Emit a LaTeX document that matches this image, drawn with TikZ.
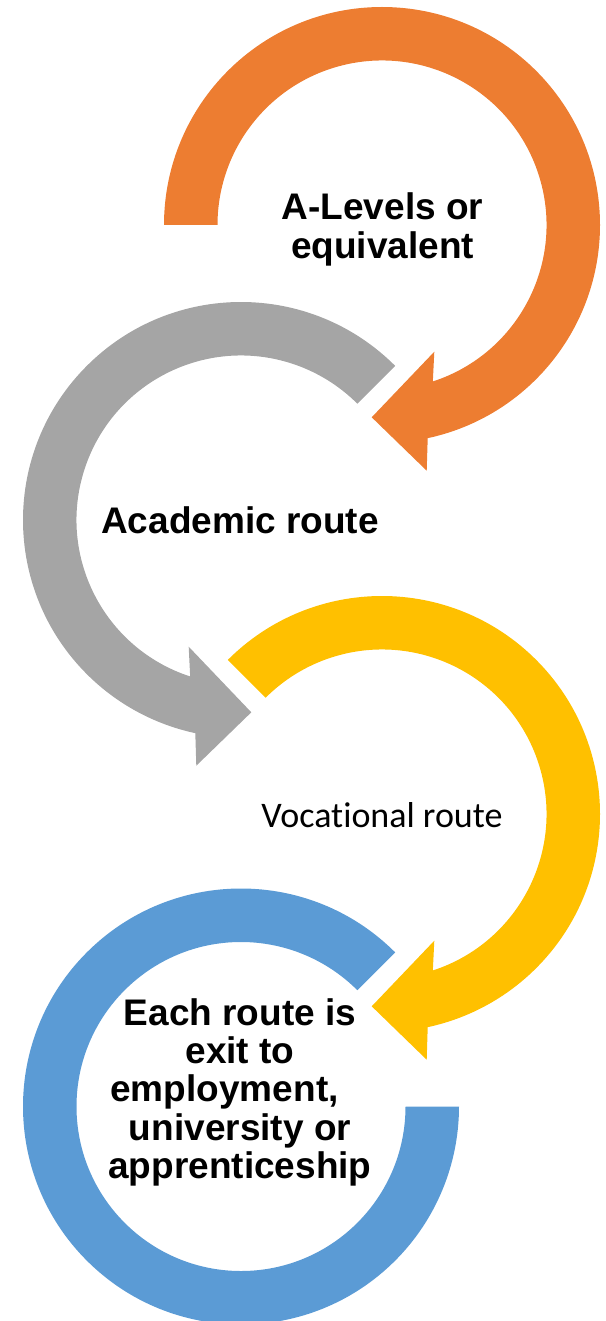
\documentclass[tikz,border=0pt]{standalone}
\usepackage{fontspec}
\setmainfont{Liberation Sans}
\newfontfamily\calibrifont[Ligatures=NoCommon]{Carlito}
\definecolor{cOrange}{HTML}{ED7D31}
\definecolor{cGray}{HTML}{A5A5A5}
\definecolor{cYellow}{HTML}{FFC000}
\definecolor{cBlue}{HTML}{5B9BD5}
% #1 centre, #2 xscale (1 or -1), #3 start angle, #4 colour
\newcommand\cyclearrow[4]{%
  \fill[#4, shift={#1}, xscale=#2]
    (#3:218) arc[start angle=#3, end angle=-77.9, radius=218]
    -- (44.7,-245.7) -- (-10.3,-192.3) -- (52.3,-126.7)
    -- (-72:164.5) arc[start angle=-72, end angle=#3, radius=164.5] -- cycle;}
\tikzset{
  boldlbl/.style={font=\bfseries\fontsize{37}{38.3}\selectfont, align=center, inner sep=0pt, text=black},
  plainlbl/.style={font=\calibrifont\fontsize{36}{40}\selectfont, inner sep=0pt, text=black}
}
\begin{document}
\begin{tikzpicture}[x=1pt,y=1pt]
\useasboundingbox (0,0) rectangle (605,-1321);
\clip (0,0) rectangle (605,-1321);
% orange
\cyclearrow{(382,-225)}{1}{180}{cOrange}
% gray (mirrored)
\cyclearrow{(241,-520)}{-1}{135}{cGray}
% yellow
\cyclearrow{(382,-814)}{1}{135}{cYellow}
% blue ring
\fill[cBlue, shift={(241,-1106.5)}]
  (45:218) arc[start angle=45, end angle=360, radius=218]
  -- (0:164.5) arc[start angle=360, end angle=45, radius=164.5] -- cycle;
% labels
\node[boldlbl] (alevels) at (382.5,-229.4) {A-Levels or\\equivalent};
\node[boldlbl, anchor=base] (academic) at (240,-533) {Academic route};
\node[plainlbl, anchor=base] (vocational) at (382,-827) {Vocational route};
\node[boldlbl] (exit) at (240,-1092.2) {Each route is\\exit to\\\mbox{employment,\hspace{31pt}}\\university or\\apprenticeship};
\end{tikzpicture}
\end{document}
